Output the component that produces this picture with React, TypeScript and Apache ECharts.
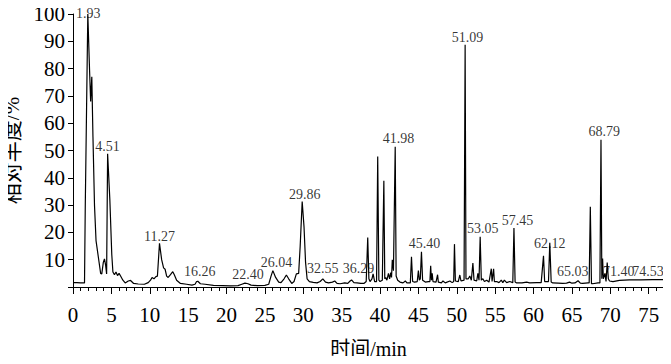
import React, { useEffect, useRef } from "react";
import * as echarts from "echarts";

// Chromatogram: [time (min), relative abundance (%)]
const chromatogram: [number, number][] = [
  [0, 1.6], [0.5, 1.6], [1.0, 1.5], [1.5, 1.5], [1.6, 30], [1.93, 100], [2.15, 80], [2.3, 68], [2.45, 77],
  [2.6, 55], [2.8, 30], [3.0, 17], [3.3, 11], [3.6, 5], [3.75, 4.8], [3.95, 9], [4.1, 10.3], [4.25, 8],
  [4.38, 4.8], [4.51, 48.8], [4.8, 32], [5.05, 12], [5.2, 5.5], [5.4, 4.5], [5.6, 5.5], [5.8, 4.2],
  [6.0, 5], [6.2, 4], [6.5, 2.5], [6.8, 1.5], [7.2, 2.2], [7.5, 2.4], [7.9, 1.3], [8.5, 1.1], [9.3, 1.0],
  [9.8, 1.6], [10.1, 2.5], [10.3, 3.5], [10.55, 3.0], [10.8, 3.8], [11.0, 4], [11.27, 16], [11.55, 10],
  [11.8, 7], [12.0, 6.5], [12.2, 4], [12.4, 3.5], [12.7, 4.5], [13.0, 5.6], [13.2, 4.5], [13.5, 2.5],
  [14.0, 1.3], [14.8, 1.0], [15.5, 0.7], [15.9, 1], [16.1, 2], [16.26, 2.1], [16.6, 1.2], [17.2, 1],
  [18.3, 0.6], [19.5, 0.5], [20.5, 0.4], [21.5, 0.5], [22.0, 1.0], [22.4, 1.4], [22.8, 1.2], [23.2, 0.7],
  [24.0, 0.5], [25.0, 0.6], [25.5, 1], [25.8, 4], [26.04, 6], [26.4, 3.5], [26.8, 1.8], [27.1, 1.6],
  [27.5, 3], [27.8, 4.4], [28.1, 3], [28.5, 1.3], [28.8, 2], [29.1, 4.8], [29.4, 5], [29.6, 15],
  [29.86, 31.3], [30.1, 22], [30.3, 9], [30.5, 3], [30.8, 2], [31.3, 1.7], [31.8, 1.5], [32.2, 2],
  [32.55, 3], [32.9, 1.8], [33.3, 1.5], [33.8, 1.8], [34.1, 2.2], [34.4, 1.3], [34.8, 1.2], [35.4, 1.5],
  [35.8, 1.3], [36.1, 2.2], [36.29, 2.6], [36.6, 1.6], [37.0, 1.5], [37.5, 1.3], [37.9, 1.3], [38.2, 2],
  [38.4, 18.1], [38.55, 3], [38.7, 2], [38.95, 3], [39.1, 4.8], [39.3, 2], [39.55, 2], [39.7, 47.8],
  [39.85, 2.5], [40.0, 2], [40.3, 2.5], [40.5, 38.9], [40.62, 3], [40.75, 3.5], [40.9, 2.5], [41.1, 5],
  [41.25, 3], [41.4, 5.3], [41.5, 3.5], [41.6, 10], [41.75, 6], [41.98, 51.4], [42.1, 4], [42.3, 2.5],
  [42.6, 1.8], [43.0, 1.5], [43.3, 2.2], [43.5, 1.5], [43.95, 1.5], [44.1, 11.1], [44.25, 2], [44.5, 1.8],
  [44.85, 2], [45.0, 6], [45.12, 2.5], [45.25, 3], [45.4, 12.9], [45.55, 2.5], [45.9, 1.8], [46.3, 2],
  [46.5, 2], [46.6, 7.8], [46.7, 2.5], [46.8, 5], [46.9, 2], [47.3, 1.8], [47.5, 4.5], [47.6, 1.8],
  [48.0, 1.5], [48.2, 2.2], [48.5, 1.5], [49.1, 2.2], [49.4, 1.6], [49.6, 2], [49.7, 15.7], [49.82, 2.2],
  [50.2, 2], [50.4, 4.4], [50.55, 2.2], [50.95, 2.5], [51.09, 88.7], [51.2, 3], [51.5, 3], [51.7, 4],
  [51.9, 2.5], [52.1, 8.8], [52.25, 2.5], [52.6, 2.2], [52.75, 5], [52.9, 2.5], [53.05, 18.4], [53.2, 2.5],
  [53.4, 3], [53.6, 2], [53.9, 2.5], [54.2, 1.8], [54.5, 6.7], [54.6, 2], [54.8, 6.7], [54.9, 2],
  [55.2, 2], [55.5, 1.6], [55.8, 2.5], [56.0, 1.6], [56.2, 2.5], [56.5, 1.6], [56.9, 2], [57.3, 1.6],
  [57.45, 21.6], [57.6, 1.8], [57.8, 1.5], [58.5, 1.5], [59.1, 1.8], [59.5, 1.5], [60.4, 1.6], [61.0, 1.6],
  [61.3, 11.4], [61.45, 2], [61.7, 2], [61.95, 2], [62.12, 16.2], [62.3, 1.8], [62.5, 1.5], [63.2, 1.4],
  [63.8, 1.3], [64.3, 1.4], [64.7, 1.8], [65.0, 1.4], [65.4, 1.5], [65.8, 2.3], [66.1, 1.4], [66.4, 1.3],
  [67.1, 1.5], [67.25, 1.5], [67.4, 29.4], [67.55, 1.2], [67.7, 1.2], [68.4, 1.5], [68.65, 1.5],
  [68.79, 53.9], [68.9, 3], [69.0, 10.4], [69.1, 3], [69.3, 5], [69.45, 2], [69.6, 9], [69.75, 3],
  [69.9, 2.2], [70.35, 2], [71.2, 2.4], [72.5, 2.6], [74.0, 2.6], [75.5, 2.7], [77, 2.7],
];

// Peak annotations: retention time text and anchor [time, abundance]
const peakLabels: string[] = [
  "1.93", "4.51", "11.27", "16.26", "22.40", "26.04", "29.86", "32.55", "36.29", "41.98",
  "45.40", "51.09", "53.05", "57.45", "62.12", "65.03", "68.79", "71.40", "74.53",
];
const peakLabelX: number[] = [
  2.0, 4.51, 11.27, 16.5, 22.8, 26.5, 30.2, 32.55, 37.2, 42.4,
  45.8, 51.4, 53.4, 57.9, 62.1, 65.1, 69.2, 71.1, 74.9,
];
const peakLabelY: number[] = [
  97.5, 48.8, 16, 3.2, 2.2, 6.5, 31.5, 4.1, 4.1, 52,
  13.3, 89, 18.9, 21.8, 13.3, 3, 54.5, 3, 3,
];

const minorTickValues: number[] = Array.from({ length: 78 }, (_, i) => i);
const majorTickValues: number[] = [0, 5, 10, 15, 20, 25, 30, 35, 40, 45, 50, 55, 60, 65, 70, 75];

const serif = "'Liberation Serif', 'Times New Roman', 'Noto Sans CJK SC', serif";

export default function App() {
  const ref = useRef<HTMLDivElement>(null);
  useEffect(() => {
    if (!ref.current) return;
    const chart = echarts.init(ref.current, undefined, { renderer: "svg" });
    chart.setOption({
      animation: false,
      backgroundColor: "#fff",
      grid: { left: 73, right: 7, top: 14, bottom: 77, containLabel: false, outerBoundsMode: "none" },
      xAxis: [
        {
          type: "value",
          min: 0,
          max: 77,
          position: "bottom",
          axisLine: { show: true, lineStyle: { color: "#000", width: 1 } },
          axisTick: { show: true, inside: false, length: 4, customValues: minorTickValues, lineStyle: { color: "#000" } },
          axisLabel: { show: false },
          splitLine: { show: false },
        },
        {
          type: "value",
          min: 0,
          max: 77,
          position: "bottom",
          offset: 0,
          axisLine: { show: false },
          axisTick: { show: true, inside: false, length: 7, customValues: majorTickValues, lineStyle: { color: "#000" } },
          axisLabel: {
            show: true,
            customValues: majorTickValues,
            color: "#000",
            fontFamily: serif,
            fontSize: 21,
            margin: 17,
          },
          splitLine: { show: false },
          name: "时间/min",
          nameLocation: "middle",
          nameGap: 52,
          nameTextStyle: { color: "#000", fontFamily: serif, fontSize: 20 },
        },
      ],
      yAxis: {
        type: "value",
        min: 0,
        max: 100,
        interval: 10,
        axisLine: { show: true, lineStyle: { color: "#000", width: 1 } },
        axisTick: { show: true, inside: false, length: 5, lineStyle: { color: "#000" } },
        axisLabel: {
          color: "#000",
          fontFamily: serif,
          fontSize: 21,
          margin: 8,
          formatter: (v: number) => (v === 0 ? "" : String(v)),
        },
        splitLine: { show: false },
        name: "相对丰度/%",
        nameLocation: "middle",
        nameGap: 46,
        nameTextStyle: { color: "#000", fontFamily: serif, fontSize: 21 },
      },
      series: [
        {
          type: "line",
          xAxisIndex: 0,
          data: chromatogram,
          symbol: "none",
          lineStyle: { color: "#000", width: 1.2 },
          z: 2,
        },
        {
          type: "scatter",
          xAxisIndex: 0,
          symbolSize: 0,
          data: peakLabels.map((t, i) => ({ name: t, value: [peakLabelX[i], peakLabelY[i]] })),
          label: {
            show: true,
            position: "top",
            distance: 0,
            formatter: (p: any) => p.name,
            color: "#000",
            fontFamily: serif,
            fontSize: 14,
          },
          silent: true,
          z: 3,
        },
      ],
    });
    return () => chart.dispose();
  }, []);
  return <div ref={ref} style={{ width: 671, height: 364, margin: -8 }} />;
}
